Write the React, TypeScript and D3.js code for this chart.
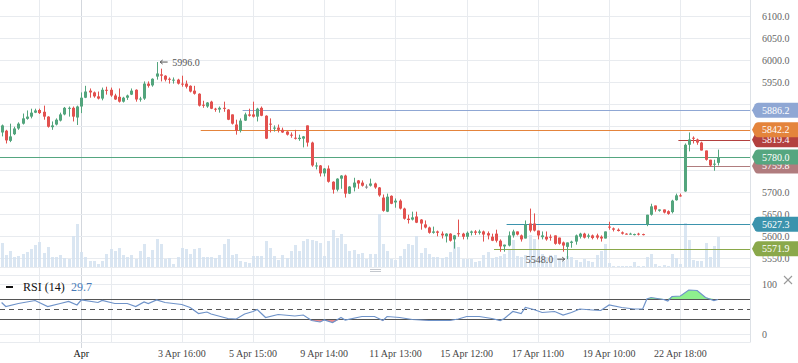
import React from 'react';
import * as d3 from 'd3';

// candle data
const opens = [5836,5840,5817,5832,5845,5856,5867,5872,5881,5887,5883,5872,5848,5854,5863,5877,5890,5892,5870,5895,5915,5931,5927,5918,5913,5933,5933,5920,5917,5906,5915,5922,5933,5911,5913,5947,5943,5963,5968,5965,5958,5954,5956,5947,5947,5942,5931,5924,5899,5895,5906,5890,5888,5892,5888,5877,5854,5840,5863,5877,5877,5872,5892,5874,5856,5845,5847,5842,5838,5831,5824,5821,5822,5852,5813,5759,5761,5743,5754,5724,5706,5731,5738,5697,5711,5727,5722,5713,5715,5720,5711,5688,5656,5692,5677,5681,5663,5640,5638,5645,5638,5627,5620,5608,5611,5606,5600,5606,5593,5607,5606,5599,5608,5611,5608,5611,5607,5599,5606,5590,5577,5579,5602,5611,5602,5595,5629,5629,5613,5598,5599,5599,5602,5597,5586,5576,5585,5588,5599,5606,5599,5602,5602,5599,5595,5622,5618,5615,5609,5606,5605,5603,5606,5605,5627,5649,5670,5658,5661,5657,5655,5682,5693,5702,5808,5824,5820,5813,5795,5774,5763,5767];
const highs = [5854,5842,5856,5849,5859,5879,5886,5890,5890,5890,5897,5873,5861,5868,5881,5894,5895,5895,5897,5927,5942,5936,5929,5929,5938,5940,5938,5924,5936,5917,5922,5936,5934,5917,5952,5952,5959,5996,5981,5966,5961,5961,5958,5965,5954,5943,5942,5925,5908,5905,5908,5892,5895,5906,5889,5877,5865,5868,5881,5890,5906,5892,5895,5875,5868,5852,5854,5847,5839,5836,5842,5831,5828,5852,5815,5768,5762,5755,5761,5725,5732,5739,5740,5714,5733,5728,5727,5718,5731,5722,5712,5695,5697,5693,5686,5684,5665,5649,5656,5656,5639,5636,5622,5622,5613,5611,5607,5607,5603,5638,5608,5611,5613,5614,5615,5613,5611,5606,5615,5593,5581,5611,5615,5611,5604,5636,5663,5652,5613,5611,5611,5604,5602,5597,5588,5586,5590,5604,5608,5608,5606,5604,5606,5602,5611,5633,5620,5618,5611,5607,5608,5606,5608,5606,5649,5674,5670,5661,5661,5659,5683,5697,5697,5811,5836,5827,5822,5815,5795,5774,5774,5797];
const lows = [5827,5811,5814,5830,5842,5854,5865,5868,5880,5878,5865,5847,5842,5852,5861,5875,5872,5861,5853,5880,5914,5915,5915,5911,5909,5922,5917,5910,5904,5904,5910,5921,5906,5906,5910,5938,5940,5956,5952,5952,5947,5947,5945,5940,5936,5927,5922,5895,5892,5892,5889,5883,5881,5883,5864,5854,5831,5836,5862,5872,5870,5861,5873,5821,5836,5838,5836,5835,5829,5824,5820,5817,5802,5804,5758,5752,5736,5736,5722,5697,5702,5708,5688,5696,5702,5708,5713,5708,5713,5708,5690,5656,5655,5673,5665,5661,5638,5629,5636,5630,5615,5618,5606,5606,5600,5595,5586,5588,5572,5599,5593,5593,5602,5603,5604,5588,5593,5589,5586,5565,5565,5577,5597,5602,5588,5595,5609,5611,5593,5593,5590,5590,5581,5581,5565,5548,5574,5581,5595,5595,5595,5593,5593,5588,5595,5615,5611,5611,5604,5604,5604,5602,5602,5602,5623,5647,5656,5656,5652,5649,5652,5681,5690,5701,5793,5811,5808,5795,5772,5758,5749,5761];
const closes = [5852,5818,5827,5845,5856,5868,5872,5881,5886,5880,5872,5849,5852,5865,5877,5892,5892,5872,5895,5915,5929,5927,5918,5913,5933,5931,5920,5911,5906,5915,5920,5931,5911,5913,5947,5942,5958,5970,5965,5956,5956,5956,5947,5945,5940,5929,5924,5897,5897,5904,5890,5888,5892,5890,5865,5856,5840,5863,5877,5874,5872,5890,5874,5822,5854,5847,5842,5836,5831,5829,5822,5824,5827,5813,5761,5761,5743,5754,5724,5706,5731,5738,5697,5713,5722,5720,5715,5713,5720,5711,5693,5658,5690,5674,5681,5663,5640,5637,5643,5631,5629,5620,5608,5611,5608,5602,5606,5590,5602,5605,5599,5608,5611,5608,5611,5604,5602,5590,5590,5577,5581,5602,5611,5604,5593,5627,5613,5613,5602,5602,5593,5597,5583,5583,5579,5586,5588,5602,5606,5597,5602,5596,5597,5595,5611,5620,5615,5612,5606,5605,5606,5605,5605,5603,5649,5668,5661,5661,5654,5651,5681,5693,5691,5808,5820,5822,5813,5795,5774,5761,5765,5780];
const volumes = [24,12,16,10,11,13,15,18,22,25,14,20,10,10,12,9,8,31,43,15,10,6,6,3,6,13,18,16,19,12,10,12,8,16,23,10,17,28,23,8,9,3,10,19,18,13,18,19,10,10,10,9,12,23,28,12,13,6,5,4,11,11,11,26,19,11,7,12,9,16,22,16,26,28,27,26,24,11,26,37,29,33,23,16,17,13,14,8,13,13,53,23,16,8,7,11,18,23,22,31,14,19,13,10,10,9,10,15,25,20,8,8,8,5,6,12,15,9,10,11,13,18,27,11,10,12,32,28,17,13,10,12,12,8,6,11,10,7,5,8,6,5,12,16,23,4,1,1,1,1,1,5,1,1,10,13,3,1,2,1,13,9,3,44,27,7,6,6,24,10,21,30];

// RSI (14) read at sample candles
const rsiIdx = [0,1,4,8,11,14,16,18,19,23,24,27,30,32,34,35,37,39,43,45,47,49,50,54,56,58,60,61,63,66,70,72,74,76,77,79,81,82,86,89,91,92,95,98,102,107,109,111,114,117,119,120,122,124,125,127,129,132,134,136,138,141,143,145,148,151,153,154,155,158,159,160,162,164,166,168,170,171];
const rsiVal = [63,55,61,67,55,61,65,58,68,63,67,61,61,55,64,61,68,63,59,53,41,44,40,31,30,40,45,49,33,39,36,38,27,24,28,23,33,28,35,35,27,35,33,29,27,27,30,35,35,31,27,31,45,41,53,49,43,45,38,43,50,48,47,58,53,50,50,70,73,69,66,75,76,88,87,73,67,69];
const rsiLevels = [30, 50, 70];
const rsiTicks = [0, 100];

const tickIdx = [9, 19, 26, 43, 60, 77, 94, 111, 128, 145, 162];
const tickLabels = ['', 'Apr', '', '3 Apr 16:00', '5 Apr 15:00', '9 Apr 14:00', '11 Apr 13:00', '15 Apr 12:00', '17 Apr 11:00', '19 Apr 10:00', '22 Apr 18:00'];
const priceTicks = [5550, 5600, 5650, 5700, 5750, 5800, 5850, 5900, 5950, 6000, 6050, 6100];

// horizontal levels, in drawing order
const levelValues = [5886.2, 5819.4, 5842.2, 5759.8, 5780.0, 5627.3, 5571.9];
const levelStart = [58, 162, 48, 164, 0, 121, 118];
const levelColors = ['#8fa7d4', '#b3403e', '#e4843c', '#b07c7e', '#55a680', '#3b93ad', '#8aa84a'];

const FONT = "'Liberation Serif', 'Times New Roman', serif";
const UP = '#53a57d';
const DOWN = '#e2514f';
const GRID = '#e8ebef';

export default function App() {
  const W = 798, H = 363, plotR = 750;
  const N = closes.length;
  const x = d3.scaleLinear().domain([0, N - 1]).range([1.6, 718.1]);
  const y = d3.scaleLinear().domain([5550, 6100]).range([258.3, 16.3]);
  const yVol = d3.scaleLinear().domain([0, d3.max(volumes) as number]).range([267, 214]);
  const yR = d3.scaleLinear().domain([0, 100]).range([334, 284]);

  const rsi = rsiIdx.map((i, k) => ({ i, v: rsiVal[k] }));
  const rsiLine = d3.line<{ i: number; v: number }>().x(d => x(d.i)).y(d => yR(d.v));
  const overArea = d3.area<{ i: number; v: number }>()
    .x(d => x(d.i)).y0(yR(70)).y1(d => yR(Math.max(d.v, 70)));
  const underArea = d3.area<{ i: number; v: number }>()
    .x(d => x(d.i)).y0(yR(30)).y1(d => yR(Math.min(d.v, 30)));

  const hi = d3.maxIndex(highs);
  const lo = d3.minIndex(lows);

  const crisp = (v: number) => Math.round(v) + 0.5;
  const tagPath = (cy: number) =>
    `M752,${cy} L755,${cy - 6} Q756,${cy - 7.5} 758,${cy - 7.5} L798,${cy - 7.5} L798,${cy + 7.5} L758,${cy + 7.5} Q756,${cy + 7.5} 755,${cy + 6} Z`;

  const visibleTicks = priceTicks.filter(t => levelValues.every(l => Math.abs(y(t) - y(l)) >= 9));

  return (
    <svg width={W} height={H} style={{ position: 'absolute', left: 0, top: 0, background: '#fff' }} fontFamily={FONT}>
      {/* vertical grid */}
      {tickIdx.map((t, k) => (
        <line key={'vg' + k} x1={crisp(x(t))} x2={crisp(x(t))} y1={0} y2={tickLabels[k] === 'Apr' ? 348 : 342}
          stroke={tickLabels[k] === 'Apr' ? '#d3d7dd' : GRID} />
      ))}
      {/* horizontal grid, price panel */}
      {priceTicks.map(t => (
        <line key={'hg' + t} x1={0} x2={plotR} y1={crisp(y(t))} y2={crisp(y(t))} stroke={GRID} />
      ))}
      <line x1={0} x2={plotR} y1={267.5} y2={267.5} stroke={GRID} />
      {/* RSI panel frame and grid */}
      <line x1={0} x2={plotR} y1={275.5} y2={275.5} stroke={GRID} />
      <line x1={0} x2={plotR} y1={342.5} y2={342.5} stroke={GRID} />
      {rsiTicks.map(t => (
        <line key={'rg' + t} x1={0} x2={plotR} y1={crisp(yR(t))} y2={crisp(yR(t))} stroke={GRID} />
      ))}
      <line x1={plotR + 0.5} x2={plotR + 0.5} y1={0} y2={342.5} stroke="#dde1e6" />

      {/* volume */}
      {volumes.map((v, i) => (
        <rect key={'v' + i} x={Math.round(x(i)) - 1} width={3} y={yVol(v)} height={267 - yVol(v)} fill="#d4e2f0" opacity={0.85} />
      ))}

      {/* level lines */}
      {levelValues.map((l, k) => (
        <line key={'l' + k} x1={levelStart[k] === 0 ? 0 : x(levelStart[k]) - 2} x2={plotR} y1={crisp(y(l))} y2={crisp(y(l))}
          stroke={levelColors[k]} strokeWidth={1} />
      ))}

      {/* candles */}
      {closes.map((c, i) => {
        const o = opens[i];
        const col = c > o ? UP : c < o ? DOWN : '#8a8a8a';
        const cx = Math.round(x(i));
        const top = y(Math.max(o, c));
        const bh = Math.max(1, Math.abs(y(o) - y(c)));
        return (
          <g key={'c' + i}>
            <line x1={cx + 0.5} x2={cx + 0.5} y1={y(highs[i])} y2={y(lows[i])} stroke={col} />
            <rect x={cx - 1} width={3} y={top} height={bh} fill={col} />
          </g>
        );
      })}

      {/* high / low annotations */}
      <g stroke="#555" fill="none">
        <path d={`M${x(hi) + 11},${y(highs[hi])} H${x(hi) + 3.5} M${x(hi) + 6},${y(highs[hi]) - 2} L${x(hi) + 3.5},${y(highs[hi])} L${x(hi) + 6},${y(highs[hi]) + 2}`} />
        <path d={`M${x(lo) - 10},${y(lows[lo])} H${x(lo) - 2.5} M${x(lo) - 5},${y(lows[lo]) - 2} L${x(lo) - 2.5},${y(lows[lo])} L${x(lo) - 5},${y(lows[lo]) + 2}`} />
      </g>
      <text x={x(hi) + 15.5} y={y(highs[hi]) + 3.5} fontSize={10} fill="#555">{highs[hi].toFixed(1)}</text>
      <text x={x(lo) - 14} y={y(lows[lo]) + 3.5} fontSize={10} fill="#555" textAnchor="end">{lows[lo].toFixed(1)}</text>

      {/* right price axis */}
      {visibleTicks.map(t => (
        <text key={'pt' + t} x={762} y={y(t) + 3.5} fontSize={10} fill="#666">{t.toFixed(1)}</text>
      ))}
      {levelValues.map((l, k) => (
        <g key={'tag' + k}>
          <path d={tagPath(y(l))} fill={levelColors[k]} />
          <text x={762} y={y(l) + 3.5} fontSize={10} fill="#fff">{l.toFixed(1)}</text>
        </g>
      ))}

      {/* RSI */}
      <path d={overArea(rsi) || ''} fill="#8ef08e" />
      <path d={underArea(rsi) || ''} fill="#f08a8a" />
      {rsiLevels.map(l => (
        <line key={'rl' + l} x1={0} x2={plotR} y1={crisp(yR(l))} y2={crisp(yR(l))} stroke="#555"
          strokeDasharray={l === 50 ? '5,4' : undefined} />
      ))}
      <path d={rsiLine(rsi) || ''} fill="none" stroke="#6f93c9" strokeWidth={1.2} />
      {rsiTicks.map(t => (
        <text key={'rt' + t} x={762} y={yR(t) + 3.5} fontSize={10} fill="#666">{t}</text>
      ))}
      <line x1={6} x2={13} y1={287} y2={287} stroke="#111" strokeWidth={2} />
      <text x={23} y={291} fontSize={12} fill="#111">RSI (14)</text>
      <text x={71} y={291} fontSize={12} fill="#4a7bb7">29.7</text>
      <g stroke="#999" strokeWidth={1.1}>
        <line x1={784} x2={792} y1={276} y2={284} />
        <line x1={792} x2={784} y1={276} y2={284} />
      </g>
      <g stroke="#c4c8ce">
        <line x1={370} x2={381} y1={269.5} y2={269.5} />
        <line x1={370} x2={381} y1={271.5} y2={271.5} />
      </g>

      {/* time axis */}
      {tickIdx.map((t, k) => tickLabels[k] ? (
        <text key={'xt' + k} x={x(t)} y={357} fontSize={10} textAnchor="middle" fill={tickLabels[k] === 'Apr' ? '#111' : '#444'}>
          {tickLabels[k]}
        </text>
      ) : null)}
    </svg>
  );
}
